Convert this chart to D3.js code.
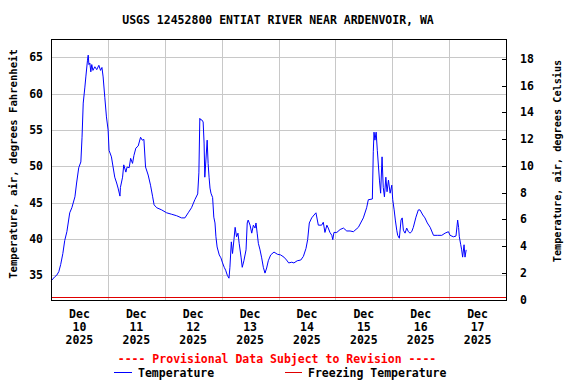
<!DOCTYPE html>
<html>
<head>
<meta charset="utf-8">
<script src="https://cdn.jsdelivr.net/npm/d3@7"></script>
<style>
  body { margin: 0; background: #fff; }
  svg text { font-family: "DejaVu Sans Mono", "Liberation Mono", monospace; font-weight: bold; fill: #000; }
</style>
</head>
<body>
<svg id="chart" width="576" height="384"></svg>
<script>
// hours since Dec 10 2025 00:00
const hours = [0.0, 0.8, 1.6, 2.4, 3.3, 4.1, 5.0, 5.8, 6.7, 7.9, 8.8, 10.1, 10.8, 11.7, 12.6, 13.1, 13.6, 14.3, 14.7, 15.4,
  15.7, 16.0, 16.4, 16.8, 17.2, 17.7, 18.5, 19.3, 20.2, 20.9, 21.5, 22.0, 22.7, 23.4, 24.1, 24.5, 25.5, 26.2, 26.9, 27.7,
  28.3, 29.1, 29.3, 30.2, 30.7, 31.6, 32.1, 33.0, 33.6, 34.4, 35.0, 35.8, 36.8, 37.8, 38.5, 39.2, 39.9, 41.0, 42.0, 42.9,
  43.5, 44.6, 46.7, 48.8, 50.9, 53.0, 55.1, 56.5, 57.9, 59.3, 60.7, 61.9, 62.4, 62.8, 63.1, 63.6, 64.2, 64.6, 64.9, 65.4,
  65.9, 66.3, 66.7, 67.1, 67.5, 68.2, 68.7, 69.2, 69.6, 70.1, 71.0, 71.7, 72.4, 73.1, 73.7, 74.4, 75.1, 75.5, 76.1, 76.6,
  77.2, 77.7, 78.3, 78.9, 79.4, 80.2, 80.7, 81.4, 82.3, 82.8, 83.2, 84.0, 84.7, 85.4, 86.1, 86.5, 87.0, 87.5, 88.2, 88.9,
  89.6, 90.3, 91.0, 91.7, 92.7, 94.1, 95.5, 96.9, 98.3, 99.4, 100.3, 101.6, 102.5, 103.9, 105.4, 106.5, 107.6, 108.3, 109.0, 110.0,
  111.0, 111.8, 112.8, 114.2, 114.9, 115.6, 116.4, 117.0, 117.7, 118.5, 118.9, 119.4, 120.6, 122.0, 123.4, 124.8, 126.2, 127.6, 129.7, 131.8,
  133.2, 133.9, 135.6, 136.0, 136.3, 136.7, 137.2, 137.7, 138.6, 139.1, 139.7, 140.2, 140.7, 141.3, 141.8, 142.4, 143.1, 143.8, 144.2, 144.8,
  145.3, 145.9, 146.3, 147.0, 147.7, 148.2, 148.7, 149.4, 150.1, 150.8, 151.5, 152.2, 152.9, 154.0, 155.0, 155.7, 156.9, 157.8, 158.8, 160.0,
  161.4, 163.0, 164.9, 166.3, 167.7, 168.4, 169.8, 170.9, 171.6, 172.0, 172.3, 172.9, 173.3, 173.7, 174.3, 174.7, 175.2];
const tempF = [34.2, 34.5, 34.8, 35.0, 35.5, 36.5, 38.0, 39.8, 41.0, 43.6, 44.3, 45.8, 47.7, 49.8, 50.6, 54.0, 58.7, 60.9, 62.3, 64.6,
  65.3, 64.0, 64.2, 63.0, 64.0, 63.2, 63.7, 63.3, 63.9, 63.2, 63.6, 62.3, 59.5, 56.8, 55.0, 52.2, 51.3, 49.9, 48.5, 47.7,
  47.0, 45.9, 47.1, 48.5, 50.2, 49.2, 49.9, 49.8, 51.1, 50.4, 51.5, 52.5, 52.8, 54.0, 53.6, 53.7, 49.9, 48.8, 47.4, 45.8,
  44.7, 44.3, 44.0, 43.6, 43.4, 43.2, 42.9, 42.9, 43.6, 44.3, 45.4, 46.2, 49.1, 56.6, 56.4, 56.4, 56.1, 53.2, 48.5, 51.0,
  53.6, 50.4, 48.5, 47.0, 46.3, 45.7, 43.0, 42.2, 40.3, 38.9, 37.8, 37.4, 36.7, 36.1, 35.7, 35.0, 34.6, 36.1, 39.6, 38.0,
  39.9, 41.6, 40.3, 40.8, 39.4, 37.5, 36.1, 37.0, 38.5, 42.2, 42.6, 41.9, 40.8, 41.9, 41.5, 42.2, 40.8, 39.4, 38.5, 37.4,
  36.1, 35.3, 36.0, 37.0, 37.8, 38.2, 37.9, 37.8, 37.5, 37.1, 36.7, 36.8, 36.7, 37.0, 37.1, 37.6, 38.7, 39.9, 42.2, 42.9,
  43.3, 43.6, 41.9, 41.9, 42.3, 40.9, 41.9, 41.5, 40.9, 40.5, 39.9, 40.9, 40.9, 41.3, 41.5, 41.1, 41.1, 41.0, 41.6, 42.9,
  44.3, 45.4, 45.5, 52.0, 54.7, 53.6, 54.7, 52.2, 48.1, 46.3, 51.3, 47.1, 45.8, 48.5, 46.5, 48.1, 46.3, 47.4, 45.4, 44.0,
  42.6, 41.2, 40.5, 40.1, 42.6, 42.9, 41.2, 40.8, 41.5, 41.0, 40.8, 41.0, 41.6, 43.0, 44.0, 44.0, 43.3, 42.9, 42.2, 41.6,
  40.5, 40.5, 40.5, 40.8, 41.0, 40.5, 40.3, 40.4, 42.6, 41.6, 40.3, 39.2, 38.5, 37.5, 39.2, 37.5, 38.5];

const fTicks = [35, 40, 45, 50, 55, 60, 65];
const cTicks = [0, 2, 4, 6, 8, 10, 12, 14, 16, 18];
const dayLabels = [10, 11, 12, 13, 14, 15, 16, 17];
const freezingF = 32;

const base = new Date(2025, 11, 10);
const toDate = h => new Date(base.getTime() + h * 3600e3);
const data = hours.map((h, i) => ({ t: toDate(h), v: tempF[i] }));

const L = 51, R = 506, T = 39, B = 300;
const svg = d3.select("#chart");

const x = d3.scaleTime().domain([base, toDate(192)]).range([L, R]);
const y = d3.scaleLinear().domain([31.6, 67.52]).range([B, T]);
// celsius side is drawn on its own scale, as in the original
const yC = d3.scaleLinear().domain([0, 18]).range([299.5, 59]);

// grid
svg.append("g").selectAll("line").data(fTicks).join("line")
  .attr("x1", L).attr("x2", R)
  .attr("y1", d => Math.round(y(d)) + 0.5).attr("y2", d => Math.round(y(d)) + 0.5)
  .attr("stroke", "#c8c8c8");
svg.append("g").selectAll("line").data(dayLabels.slice(1)).join("line")
  .attr("x1", d => Math.round(x(new Date(2025, 11, d))) + 0.5)
  .attr("x2", d => Math.round(x(new Date(2025, 11, d))) + 0.5)
  .attr("y1", T).attr("y2", B)
  .attr("stroke", "#c8c8c8");

// freezing line
svg.append("line")
  .attr("x1", L).attr("x2", R)
  .attr("y1", Math.round(y(freezingF)) + 0.5).attr("y2", Math.round(y(freezingF)) + 0.5)
  .attr("stroke", "#e00000");

// temperature
svg.append("path").datum(data)
  .attr("fill", "none").attr("stroke", "#0000ff").attr("stroke-width", 1)
  .attr("d", d3.line().x(d => x(d.t)).y(d => y(d.v)));

// frame
svg.append("rect")
  .attr("x", L + 0.5).attr("y", T + 0.5).attr("width", R - L).attr("height", B - T)
  .attr("fill", "none").attr("stroke", "#000");

// left axis labels
svg.append("g").selectAll("text").data(fTicks).join("text")
  .attr("x", 43).attr("y", d => y(d)).attr("dy", "0.35em")
  .attr("text-anchor", "end").attr("font-size", 11.5).text(d => d);

// right axis ticks + labels
const right = svg.append("g");
right.selectAll("line").data(cTicks.filter(d => d > 0)).join("line")
  .attr("x1", R - 4).attr("x2", R)
  .attr("y1", d => Math.round(yC(d)) + 0.5).attr("y2", d => Math.round(yC(d)) + 0.5)
  .attr("stroke", "#000");
right.selectAll("text").data(cTicks).join("text")
  .attr("x", 520).attr("y", d => yC(d)).attr("dy", "0.35em")
  .attr("font-size", 11.5).text(d => d);

// x labels
const xl = svg.append("g").selectAll("text").data(dayLabels).join("text")
  .attr("text-anchor", "middle").attr("font-size", 11.5)
  .attr("transform", d => `translate(${x(new Date(2025, 11, d, 12))},0)`);
xl.append("tspan").attr("x", 0).attr("y", 318).text("Dec");
xl.append("tspan").attr("x", 0).attr("y", 331).text(d => d);
xl.append("tspan").attr("x", 0).attr("y", 344).text("2025");

// title
svg.append("text").attr("x", 278).attr("y", 24).attr("text-anchor", "middle")
  .attr("font-size", 11.5).text("USGS 12452800 ENTIAT RIVER NEAR ARDENVOIR, WA");

// axis titles
svg.append("text").attr("transform", "translate(17,164) rotate(-90)")
  .attr("text-anchor", "middle").attr("font-size", 10.6)
  .text("Temperature, air, degrees Fahrenheit");
svg.append("text").attr("transform", "translate(561,161) rotate(-90)")
  .attr("text-anchor", "middle").attr("font-size", 10.2)
  .text("Temperature, air, degrees Celsius");

// legend
svg.append("text").attr("x", 277).attr("y", 363).attr("text-anchor", "middle")
  .attr("font-size", 11.5).style("fill", "#ff0000")
  .text("---- Provisional Data Subject to Revision ----");
svg.append("line").attr("x1", 114).attr("x2", 132).attr("y1", 372.5).attr("y2", 372.5).attr("stroke", "#0000ff");
svg.append("text").attr("x", 138).attr("y", 377).attr("font-size", 11.5).text("Temperature");
svg.append("line").attr("x1", 285).attr("x2", 302).attr("y1", 372.5).attr("y2", 372.5).attr("stroke", "#e00000");
svg.append("text").attr("x", 308).attr("y", 377).attr("font-size", 11.5).text("Freezing Temperature");
</script>
</body>
</html>
